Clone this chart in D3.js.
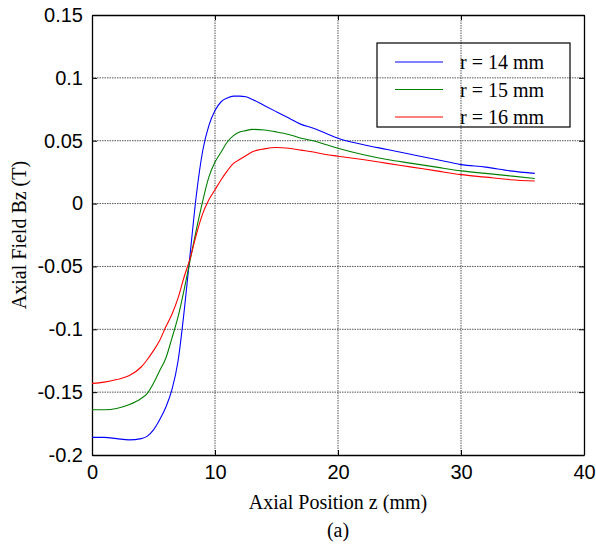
<!DOCTYPE html>
<html>
<head>
<meta charset="utf-8">
<script src="https://cdn.jsdelivr.net/npm/d3@7"></script>
<style>
  body { margin: 0; background: #fff; }
  .tick text { font-family: Arial, "Liberation Sans", sans-serif; font-size: 20px; fill: #000; }
  .grid line { stroke: #555; stroke-dasharray: 1.5,1; }
</style>
</head>
<body>
<div id="chart-area"></div>
<script>
// Axial position z (mm)
var zPos = [0, 1, 2, 3, 4, 4.5, 5, 5.5, 6, 6.5, 7, 7.5, 8, 8.5, 9, 9.5, 10, 10.5, 11, 11.5, 12, 12.5,
            13, 14, 15, 16, 17, 18, 19, 20, 22, 24, 26, 28, 30, 32, 34, 36];

// Bz (T) for each radius
var bz14 = [-0.186, -0.186, -0.187, -0.188, -0.187, -0.185, -0.180, -0.172, -0.162, -0.148, -0.125, -0.085,
            -0.038, 0.008, 0.042, 0.062, 0.074, 0.081, 0.084, 0.0855, 0.0855, 0.085,
            0.083, 0.078, 0.073, 0.068, 0.063, 0.060, 0.056, 0.052, 0.047, 0.043, 0.039, 0.035, 0.031, 0.029, 0.026, 0.024];
var bz15 = [-0.164, -0.164, -0.163, -0.160, -0.155, -0.151, -0.143, -0.133, -0.123, -0.107, -0.090, -0.068,
            -0.044, -0.020, 0.002, 0.021, 0.033, 0.041, 0.049, 0.054, 0.057, 0.058,
            0.059, 0.0585, 0.057, 0.055, 0.052, 0.050, 0.047, 0.044, 0.039, 0.035, 0.032, 0.029, 0.026, 0.024, 0.022, 0.020];
var bz16 = [-0.143, -0.142, -0.140, -0.137, -0.130, -0.124, -0.117, -0.109, -0.098, -0.088, -0.075, -0.058,
            -0.043, -0.024, -0.008, 0.003, 0.011, 0.019, 0.026, 0.032, 0.035, 0.038,
            0.041, 0.0435, 0.0446, 0.044, 0.0425, 0.041, 0.039, 0.0377, 0.035, 0.032, 0.029, 0.026, 0.023, 0.021, 0.019, 0.018];

var seriesNames = ["r = 14 mm", "r = 15 mm", "r = 16 mm"];
var seriesColors = ["#0000ff", "#008000", "#ff0000"];
var seriesValues = [bz14, bz15, bz16];

var xTicks = [0, 10, 20, 30, 40];
var yTicks = [-0.2, -0.15, -0.1, -0.05, 0, 0.05, 0.1, 0.15];
var yTickLabels = ["-0.2", "-0.15", "-0.1", "-0.05", "0", "0.05", "0.1", "0.15"];

var margin = { left: 92, right: 12, top: 15, bottom: 100 };
var width = 596 - margin.left - margin.right,
    height = 555 - margin.top - margin.bottom;

var svg = d3.select("#chart-area")
    .append("svg")
    .attr("width", 596)
    .attr("height", 555);

var g = svg.append("g")
    .attr("transform", "translate(" + margin.left + "," + margin.top + ")");

var x = d3.scaleLinear().domain([0, 40]).range([0, width]);
var y = d3.scaleLinear().domain([-0.2, 0.15]).range([height, 0]);

// Grid
g.append("g")
    .attr("class", "grid")
    .selectAll("line")
    .data(xTicks.slice(1, -1))
    .enter().append("line")
    .attr("x1", function(d){ return x(d); })
    .attr("x2", function(d){ return x(d); })
    .attr("y1", 0)
    .attr("y2", height);

g.append("g")
    .attr("class", "grid")
    .selectAll("line")
    .data(yTicks.slice(1, -1))
    .enter().append("line")
    .attr("x1", 0)
    .attr("x2", width)
    .attr("y1", function(d){ return y(d); })
    .attr("y2", function(d){ return y(d); });

// Axes (ticks inward)
var xAxisCall = d3.axisBottom(x)
    .tickValues(xTicks)
    .tickSizeInner(-5)
    .tickSizeOuter(0)
    .tickFormat(d3.format("d"));

var xAxis = g.append("g")
    .attr("class", "x axis")
    .attr("transform", "translate(0," + height + ")")
    .call(xAxisCall);
xAxis.selectAll("text").attr("dy", "0.71em").attr("y", 10);

var yAxisCall = d3.axisLeft(y)
    .tickValues(yTicks)
    .tickSizeInner(-5)
    .tickSizeOuter(0)
    .tickPadding(9)
    .tickFormat(function(d, i){ return yTickLabels[i]; });

g.append("g")
    .attr("class", "y axis")
    .call(yAxisCall);

g.append("g")
    .call(d3.axisTop(x).tickValues(xTicks).tickSizeInner(-5).tickSizeOuter(0).tickFormat(""));
g.append("g")
    .attr("transform", "translate(" + width + ",0)")
    .call(d3.axisRight(y).tickValues(yTicks).tickSizeInner(-5).tickSizeOuter(0).tickFormat(""));

g.selectAll(".domain").attr("stroke", "#000").attr("stroke-width", 1.3);
g.selectAll(".tick line").attr("stroke", "#000");

// Lines
var line = d3.line()
    .curve(d3.curveMonotoneX)
    .x(function(d){ return x(d[0]); })
    .y(function(d){ return y(d[1]); });

seriesValues.forEach(function(vals, i){
    g.append("path")
        .datum(zPos.map(function(z, j){ return [z, vals[j]]; }))
        .attr("fill", "none")
        .attr("stroke", seriesColors[i])
        .attr("stroke-width", 1.1)
        .attr("d", line);
});

// Legend
var legend = svg.append("g").attr("transform", "translate(377,43)");
legend.append("rect")
    .attr("width", 193)
    .attr("height", 84)
    .attr("fill", "none")
    .attr("stroke", "#000")
    .attr("stroke-width", 1.2);

seriesNames.forEach(function(name, i){
    var yy = 19 + i * 27.5;
    legend.append("line")
        .attr("x1", 18).attr("x2", 66)
        .attr("y1", yy).attr("y2", yy)
        .attr("stroke", seriesColors[i])
        .attr("stroke-width", 1.1);
    legend.append("text")
        .attr("x", 83)
        .attr("y", yy + 7)
        .attr("font-family", "'Liberation Serif', 'Times New Roman', serif")
        .attr("font-size", "20px")
        .text(name);
});

// Labels
svg.append("text")
    .attr("x", margin.left + width / 2)
    .attr("y", 509)
    .attr("text-anchor", "middle")
    .attr("font-family", "'Liberation Serif', 'Times New Roman', serif")
    .attr("font-size", "20px")
    .text("Axial Position z (mm)");

svg.append("text")
    .attr("x", margin.left + width / 2)
    .attr("y", 537)
    .attr("text-anchor", "middle")
    .attr("font-family", "'Liberation Serif', 'Times New Roman', serif")
    .attr("font-size", "20px")
    .text("(a)");

svg.append("text")
    .attr("transform", "translate(26," + (margin.top + height / 2) + ") rotate(-90)")
    .attr("text-anchor", "middle")
    .attr("font-family", "'Liberation Serif', 'Times New Roman', serif")
    .attr("font-size", "20px")
    .text("Axial Field Bz (T)");
</script>
</body>
</html>
